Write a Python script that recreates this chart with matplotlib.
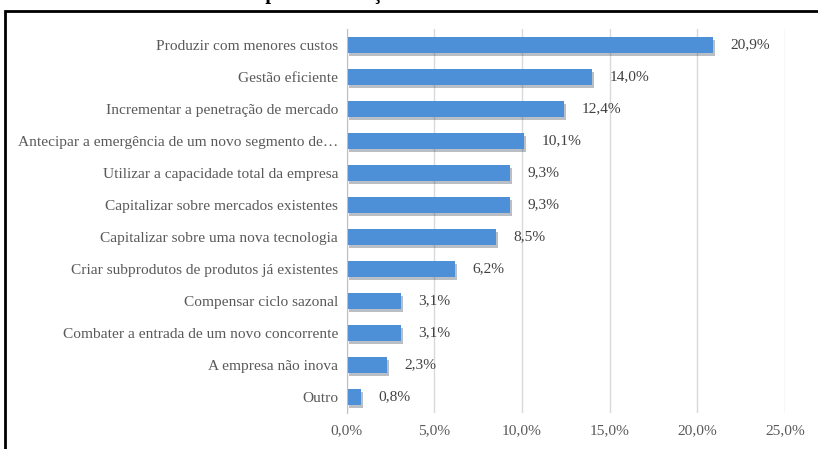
import matplotlib.pyplot as plt
import matplotlib.patheffects as pe
from matplotlib.patches import Rectangle

categories = [
    'Produzir com menores custos',
    'Gestão eficiente',
    'Incrementar a penetração de mercado',
    'Antecipar a emergência de um novo segmento de…',
    'Utilizar a capacidade total da empresa',
    'Capitalizar sobre mercados existentes',
    'Capitalizar sobre uma nova tecnologia',
    'Criar subprodutos de produtos já existentes',
    'Compensar ciclo sazonal',
    'Combater a entrada de um novo concorrente',
    'A empresa não inova',
    'Outro',
]
values = [20.9, 14.0, 12.4, 10.1, 9.3, 9.3, 8.5, 6.2, 3.1, 3.1, 2.3, 0.8]
xticks = [0, 5, 10, 15, 20, 25]

plt.rcParams['font.family'] = ['Liberation Serif', 'DejaVu Serif']
fs = 11.1

fig = plt.figure(figsize=(8.18, 4.49), dpi=100)
ax = fig.add_axes([0.4236, 0.0802, 0.5361, 0.8552])

y = list(range(len(categories)))
bars = ax.barh(y, values, height=0.5, color='#4d90d8', zorder=3)
for b in bars:
    b.set_path_effects([pe.SimplePatchShadow(offset=(1.5, -2), alpha=0.3), pe.Normal()])

for yi, v in zip(y, values):
    ax.text(v + 1.0, yi, f'{v:.1f}%'.replace('.', ','), va='center', ha='left',
            fontsize=fs, color='#404040')

ax.set_ylim(len(categories) - 0.5, -0.5)
ax.set_xlim(0, 25)
ax.set_xticks(xticks)
ax.set_xticklabels([f'{t:.1f}%'.replace('.', ',') for t in xticks], fontsize=fs, color='#595959')
ax.set_yticks(y)
ax.set_yticklabels(categories, fontsize=fs, color='#595959')
ax.tick_params(axis='y', length=0, pad=6)
ax.tick_params(axis='x', length=0, pad=8)
ax.xaxis.grid(True, color='#d9d9d9', linewidth=1, zorder=0)
for s in ['top', 'right', 'bottom']:
    ax.spines[s].set_visible(False)
ax.spines['left'].set_color('#bfbfbf')
ax.spines['left'].set_zorder(4)

# outer frame of the chart, cut by the image edges
fig.patches.append(Rectangle((5 / 818, -0.1), 1.0, 1.1 - 11 / 449, transform=fig.transFigure,
                             fill=False, edgecolor='black', linewidth=2))
# title, mostly outside the visible area (only descenders show)
fig.text(0.234, 1.0 + 1 / 449, 'Motivos para a inovação', ha='left', va='baseline',
         fontsize=14.5, fontweight='bold')

fig.savefig('out.png', dpi=100)
